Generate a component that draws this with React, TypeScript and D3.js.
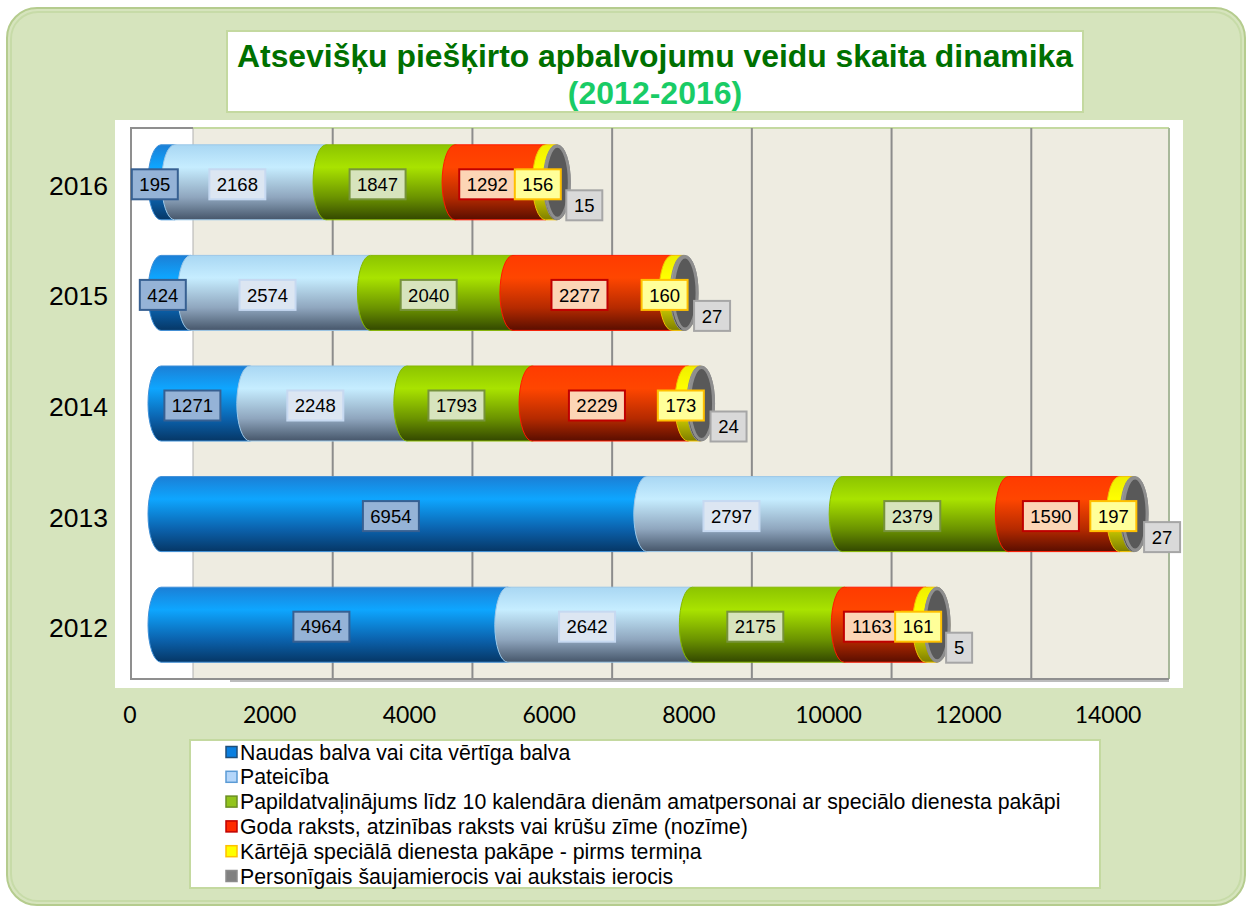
import React, { useEffect } from "react";
import * as d3 from "d3";

const years = ["2016", "2015", "2014", "2013", "2012"];
const seriesNames = [
  "Naudas balva vai cita vērtīga balva",
  "Pateicība",
  "Papildatvaļinājums līdz 10 kalendāra dienām amatpersonai ar speciālo dienesta pakāpi",
  "Goda raksts, atzinības raksts vai krūšu zīme (nozīme)",
  "Kārtējā speciālā dienesta pakāpe - pirms termiņa",
  "Personīgais šaujamierocis vai aukstais ierocis",
];
const naudas = [195, 424, 1271, 6954, 4964];
const pateiciba = [2168, 2574, 2248, 2797, 2642];
const papildatvalinajums = [1847, 2040, 1793, 2379, 2175];
const godaRaksts = [1292, 2277, 2229, 1590, 1163];
const kartejaPakape = [156, 160, 173, 197, 161];
const ierocis = [15, 27, 24, 27, 5];
const xTicks = [0, 2000, 4000, 6000, 8000, 10000, 12000, 14000];
const titleLine1 = "Atsevišķu piešķirto apbalvojumu veidu skaita dinamika";
const titleLine2 = "(2012-2016)";

const seriesValues = [naudas, pateiciba, papildatvalinajums, godaRaksts, kartejaPakape, ierocis];

const grads = [
  [["0", "#1b7fd6"], ["0.3", "#0ea6ff"], ["0.7", "#0b62ad"], ["1", "#063766"]],
  [["0", "#a9d7f3"], ["0.3", "#c6edff"], ["0.7", "#8fa6be"], ["1", "#46566a"]],
  [["0", "#8cc400"], ["0.3", "#a9e300"], ["0.7", "#6b9300"], ["1", "#334800"]],
  [["0", "#ff3b00"], ["0.3", "#ff4600"], ["0.7", "#b52a00"], ["1", "#5a0e00"]],
  [["0", "#eeee00"], ["0.3", "#ffff00"], ["0.7", "#c8c800"], ["1", "#7e7e00"]],
  [["0", "#8a8a8a"], ["0.3", "#a0a0a0"], ["0.7", "#6a6a6a"], ["1", "#3c3c3c"]],
];
const segStroke = ["#3d8fd8", "#9cc8e8", "#86b800", "#ff1a00", "#f2c000", "#8c8c8c"];
const labelFill = ["#95b3d7", "#dce6f2", "#d7e4bd", "#fcd5b5", "#ffff99", "#d9d9d9"];
const labelStroke = ["#376092", "#c6d9f1", "#77933c", "#c00000", "#ffc000", "#a6a6a6"];
const legendFill = ["#0a7fe0", "#b4d6fa", "#92c41c", "#ff2a00", "#ffff00", "#808080"];
const legendStroke = ["#1f4e79", "#5b9bd5", "#6b8e23", "#c00000", "#ffc000", "#8c8c8c"];

export default function App() {
  useEffect(() => {
    document.body.style.margin = "0";
  }, []);

  const W = 1253;
  const H = 907;
  const x = d3.scaleLinear().domain([0, 14000]).range([130, 1108]);
  const y = d3.scalePoint<string>().domain(years).range([127, 680]).padding(0.5);
  const frontOff = 31;
  const backOff = 63;
  const rx = 13;
  const ry = 37.5;

  const wallL = x(0) + backOff;
  const wallR = x(14000) + backOff - 2;
  const wallT = 128;
  const wallB = 679;

  const bars: any[] = [];
  const labels: any[] = [];
  years.forEach((yr, i) => {
    const cy = y(yr)!;
    let cum = 0;
    seriesValues.forEach((vals, s) => {
      const v = vals[i];
      const a = x(cum) + frontOff;
      const b = x(cum + v) + frontOff;
      cum += v;
      const top = cy - ry;
      const bot = cy + ry;
      const d = `M${a},${top} L${b},${top} A${rx},${ry} 0 0 1 ${b},${bot} L${a},${bot} A${rx},${ry} 0 0 1 ${a},${top} Z`;
      bars.push(
        <path key={`b${i}-${s}`} d={d} fill={`url(#g${s})`} stroke={segStroke[s]} strokeWidth={1} />
      );
      if (s === seriesValues.length - 1) {
        bars.push(
          <ellipse key={`cap${i}`} cx={b} cy={cy} rx={rx - 1} ry={ry - 1.5} fill="#595959" stroke="#8e8e8e" strokeWidth={3} />
        );
      }
      const txt = String(v);
      const bw = txt.length * 10 + 16;
      const bh = 30;
      let lx: number, ly: number;
      if (s === seriesValues.length - 1) {
        lx = b + 9;
        ly = cy + 23 - bh / 2;
      } else {
        lx = (a + b) / 2 - rx - bw / 2;
        ly = cy + 2 - bh / 2;
      }
      labels.push(
        <g key={`l${i}-${s}`}>
          <rect x={lx} y={ly} width={bw} height={bh} fill={labelFill[s]} stroke={labelStroke[s]} strokeWidth={2} />
          <text x={lx + bw / 2} y={ly + bh / 2} dy="0.36em" textAnchor="middle" fontSize={18.5} fontFamily="Liberation Sans, Arial, sans-serif" fill="#000">
            {txt}
          </text>
        </g>
      );
    });
  });

  return (
    <svg width={W} height={H} style={{ position: "absolute", left: 0, top: 0, display: "block" }}>
      <defs>
        {grads.map((stops, s) => (
          <linearGradient key={s} id={`g${s}`} x1="0" y1="0" x2="0" y2="1">
            {stops.map(([o, c]) => (
              <stop key={o} offset={o} stopColor={c} />
            ))}
          </linearGradient>
        ))}
      </defs>
      <rect x={0} y={0} width={W} height={H} fill="#ffffff" />
      {/* outer frame */}
      <rect x={7} y={8} width={1238} height={897} rx={30} ry={30} fill="#d6e4bd" stroke="#b5cc8e" strokeWidth={2} />
      <rect x={11} y={12} width={1230} height={889} rx={27} ry={27} fill="none" stroke="#c7dba8" strokeWidth={2} />

      {/* title box */}
      <rect x={227} y={31} width={856} height={81} fill="#ffffff" stroke="#c4d9a0" strokeWidth={2} />
      <text x={655} y={55} dy="0.36em" textAnchor="middle" fontSize={32} fontWeight="bold" fontFamily="Liberation Sans, Arial, sans-serif" fill="#007000" textLength={836} lengthAdjust="spacingAndGlyphs">
        {titleLine1}
      </text>
      <text x={655} y={92} dy="0.36em" textAnchor="middle" fontSize={32} fontWeight="bold" fontFamily="Liberation Sans, Arial, sans-serif" fill="#19cc66">
        {titleLine2}
      </text>

      {/* plot area */}
      <rect x={115} y={120} width={1068} height={568} fill="#ffffff" />
      <rect x={wallL} y={wallT} width={wallR - wallL} height={wallB - wallT} fill="#eeece1" />
      <line x1={wallL} x2={wallR} y1={wallT} y2={wallT} stroke="#c4d9a0" strokeWidth={2} />
      <line x1={wallR} x2={wallR} y1={wallT} y2={wallB} stroke="#a8b89a" strokeWidth={2} />
      {xTicks.slice(0, -1).map((t) => (
        <line key={t} x1={x(t) + backOff} x2={x(t) + backOff} y1={wallT} y2={wallB} stroke={t === 0 ? "#b0b0b0" : "#8c8c8c"} strokeWidth={t === 0 ? 1 : 2} />
      ))}
      <path d={`M${wallL},${wallT} L${x(0) + 1},${wallT} L${x(0) + 1},${wallB} L${wallR},${wallB}`} fill="none" stroke="#8f8f8f" strokeWidth={2} />
      <line x1={230} x2={wallR} y1={wallB + 2} y2={wallB + 2} stroke="#a6a6a6" strokeWidth={1.5} />

      {bars}
      {labels}

      {/* year labels */}
      {years.map((yr) => (
        <text key={yr} x={108} y={y(yr)! + 3} dy="0.36em" textAnchor="end" fontSize={26.5} fontFamily="Liberation Sans, Arial, sans-serif" fill="#000">
          {yr}
        </text>
      ))}

      {/* x axis tick labels */}
      {xTicks.map((t) => (
        <text key={t} x={x(t)} y={715} dy="0.36em" textAnchor="middle" fontSize={23} fontFamily="Lato, Liberation Sans, sans-serif" fill="#000">
          {t}
        </text>
      ))}

      {/* legend */}
      <rect x={190} y={740} width={910} height={148} fill="#ffffff" stroke="#c4d9a0" strokeWidth={2} />
      {seriesNames.map((n, s) => {
        const ly = 752 + s * 24.8;
        return (
          <g key={n}>
            <rect x={226} y={ly - 5.5} width={11} height={11} fill={legendFill[s]} stroke={legendStroke[s]} strokeWidth={1.5} />
            <text x={240} y={ly} dy="0.36em" fontSize={21.3} fontFamily="Liberation Sans, Arial, sans-serif" fill="#000">
              {n}
            </text>
          </g>
        );
      })}
    </svg>
  );
}
